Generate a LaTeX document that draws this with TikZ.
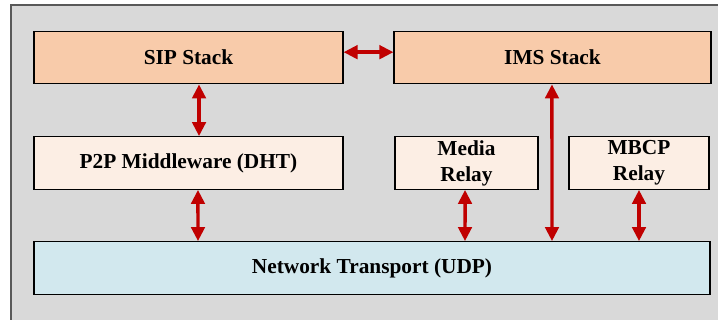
\documentclass[tikz,border=0pt]{standalone}
\usepackage{fontspec}
\setmainfont{Liberation Serif}
\usetikzlibrary{arrows.meta}

\definecolor{stackfill}{HTML}{F8CBAA}
\definecolor{midfill}{HTML}{FCEEE4}
\definecolor{netfill}{HTML}{D2E8EE}
\definecolor{bggray}{HTML}{D9D9D9}
\definecolor{linkred}{HTML}{C00000}

\begin{document}
\begin{tikzpicture}[x=0.75pt, y=-0.75pt,
    layer box/.style={draw=black, line width=0.8pt, minimum height=39.5pt, inner sep=0pt,
      align=center, font=\fontsize{16}{19.5}\selectfont\bfseries},
    stack box/.style={layer box, fill=stackfill},
    mid box/.style={layer box, fill=midfill},
    net box/.style={layer box, fill=netfill},
    link/.style={draw=linkred, line width=2.6pt,
      {Triangle[length=10.5pt,width=10pt]}-{Triangle[length=10.5pt,width=10pt]}},
    ]
  \clip (0,0) rectangle (718,320);
  \draw[fill=bggray, draw=black!65, line width=1pt] (11,5) rectangle (740,340);

  \node[stack box, minimum width=231.75pt] (sip) at (188.5,57.5) {SIP Stack};
  \node[stack box, minimum width=237.75pt] (ims) at (552.5,57.5) {IMS Stack};

  \node[mid box, minimum width=231.75pt] (p2p) at (188.5,163) {P2P Middleware (DHT)};
  \node[mid box, minimum width=107.25pt] (media) at (466.5,163) {Media\\Relay};
  \node[mid box, minimum width=105pt] (mbcp) at (639,163) {MBCP\\Relay};

  \node[net box, minimum width=507pt] (net) at (372,268) {Network Transport (UDP)};

  \draw[link] ([yshift=4pt]sip.east) -- ([yshift=4pt]ims.west);
  \draw[link] ([xshift=7.9pt]sip.south) -- ([xshift=7.9pt]p2p.north);
  \draw[link] ([xshift=7.1pt]p2p.south) -- ([xshift=-130.5pt]net.north);
  \draw[link] ([xshift=-1.1pt]media.south) -- ([xshift=69.75pt]net.north);
  \draw[link] ([xshift=-0.4pt]ims.south) -- ([xshift=135pt]net.north);
  \draw[link] (mbcp.south) -- ([xshift=200.25pt]net.north);
\end{tikzpicture}
\end{document}
